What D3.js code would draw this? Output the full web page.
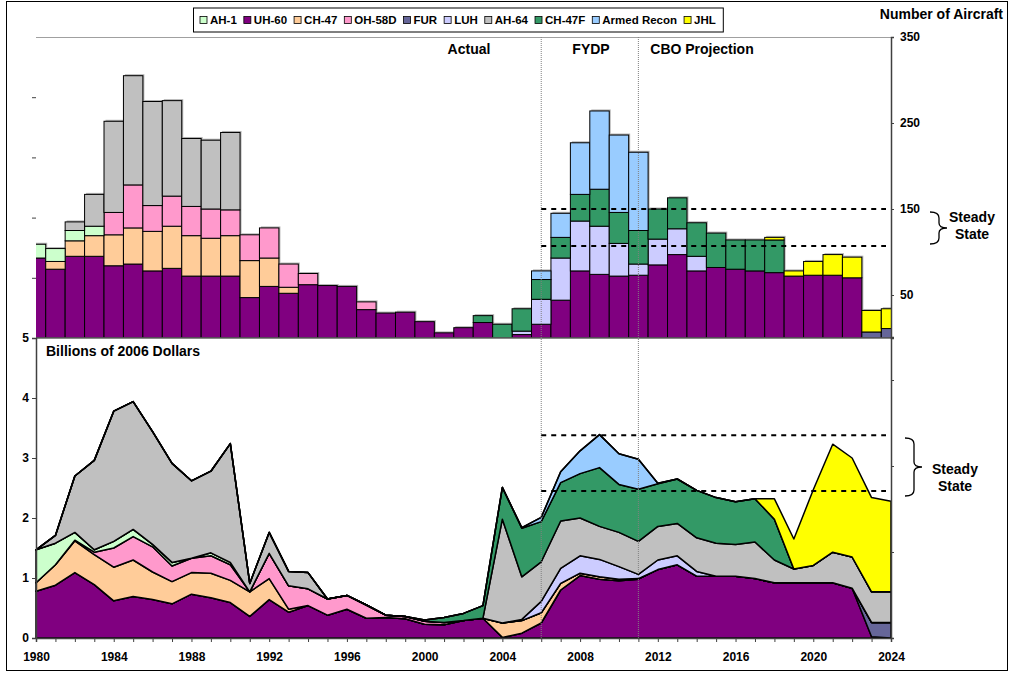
<!DOCTYPE html>
<html>
<head>
<meta charset="utf-8">
<script src="https://cdn.jsdelivr.net/npm/d3@7"></script>
<style>
  body { margin: 0; background: #fff; }
  svg { font-family: "Liberation Sans", Arial, sans-serif; font-weight: bold; }
</style>
</head>
<body>
<svg id="chart" width="1011" height="673"></svg>
<script>
// years 1980 - 2024
var years = d3.range(1980, 2025);
var yearLabels = [1980, 1984, 1988, 1992, 1996, 2000, 2004, 2008, 2012, 2016, 2020, 2024];

var seriesNames = ["AH-1", "UH-60", "CH-47", "OH-58D", "FUR", "LUH", "AH-64", "CH-47F", "Armed Recon", "JHL"];
var seriesColors = ["#ccffcc", "#800080", "#ffcc99", "#ff99cc", "#666699", "#ccccff", "#c0c0c0", "#339966", "#99ccff", "#ffff00"];
// stacking order, bottom to top
var stackOrder = ["UH-60", "FUR", "CH-47", "OH-58D", "AH-1", "LUH", "AH-64", "CH-47F", "Armed Recon", "JHL"];

// Number of aircraft (top panel)
var ah1Count    = [16,15,12,11,0,0,0,0,0,0, 0,0,0,0,0,0,0,0,0,0, 0,0,0,0,0,0,0,0,0,0, 0,0,0,0,0,0,0,0,0,0, 0,0,0,0,0];
var uh60Count   = [93,80,95,95,84,86,78,81,72,72, 72,47,60,52,62,61,60,33,29,30, 19,6,12,18,0,4,16,44,78,74, 72,73,85,97,78,82,80,78,76,72, 73,73,70,0,0];
var ch47Count   = [0,9,18,24,36,42,46,49,47,44, 47,43,33,7,0,0,0,0,0,0, 0,0,0,0,0,0,0,0,0,0, 0,0,0,0,0,0,0,0,0,0, 0,0,0,0,0];
var oh58Count   = [0,0,0,0,26,50,30,35,34,34, 30,30,35,27,13,0,0,9,0,0, 0,0,0,0,0,0,0,0,0,0, 0,0,0,0,0,0,0,0,0,0, 0,0,0,0,0];
var furCount    = [0,0,0,0,0,0,0,0,0,0, 0,0,0,0,0,0,0,0,0,0, 0,0,0,0,0,0,0,0,0,0, 0,0,0,0,0,0,0,0,0,0, 0,0,0,7,11];
var luhCount    = [0,0,0,0,0,0,0,0,0,0, 0,0,0,0,0,0,0,0,0,0, 0,0,0,0,0,4,29,49,58,56, 38,13,30,30,17,0,0,0,0,0, 0,0,0,0,0];
var ah64Count   = [0,0,10,37,106,127,121,111,79,80, 90,0,0,0,0,0,0,0,0,0, 0,0,0,0,0,0,0,0,0,0, 0,0,0,0,0,0,0,0,0,0, 0,0,0,0,0];
var ch47fCount  = [0,0,0,0,0,0,0,0,0,0, 0,0,0,0,0,0,0,0,0,0, 0,0,0,8,16,26,23,24,31,43, 36,39,35,36,39,40,34,36,38,0, 0,0,0,0,0];
var reconCount  = [0,0,0,0,0,0,0,0,0,0, 0,0,0,0,0,0,0,0,0,0, 0,0,0,0,0,0,10,28,60,91, 90,91,0,0,0,0,0,0,0,0, 0,0,0,0,0];
var jhlCount    = [0,0,0,0,0,0,0,0,0,0, 0,0,0,0,0,0,0,0,0,0, 0,0,0,0,0,0,0,0,0,0, 0,0,0,0,0,0,0,0,3,6, 16,24,24,25,23];

// Billions of 2006 dollars (bottom panel)
var ah1Cost     = [.55,.36,.13,.04,.11,.12,.04,.06,0,.05, .04,0,0,0,0,0,0,0,0,0, 0,0,0,0,0,0,0,0,0,0, 0,0,0,0,0,0,0,0,0,0, 0,0,0,0,0];
var uh60Cost    = [.78,.88,1.09,.89,.62,.69,.64,.57,.73,.67, .59,.36,.64,.43,.54,.38,.48,.33,.34,.32, .23,.22,.29,.33,.01,.08,.25,.80,1.04,.98, .955,.98,1.14,1.22,1.03,1.03,1.03,.99,.92,.92, .92,.92,.83,.02,0];
var ch47Cost    = [.14,.34,.53,.50,.56,.61,.46,.37,.36,.41, .37,.41,.35,.05,0,0,0,0,0,0, 0,0,0,0,.24,.21,.17,.11,.04,.04, .025,.01,0,0,0,0,0,0,0,0, 0,0,0,0,0];
var oh58Cost    = [0,0,.01,.04,.32,.39,.42,.26,.24,.29, .26,0,.42,.39,.28,.27,.23,.22,.04,.04, .05,.04,0,0,0,0,0,0,0,0, 0,0,0,0,0,0,0,0,0,0, 0,0,0,0,0];
var furCost     = [0,0,0,0,0,0,0,0,0,0, 0,0,0,0,0,0,0,0,0,0, 0,0,0,0,0,0,0,0,0,0, 0,0,0,0,0,0,0,0,0,0, 0,0,0,.24,.26];
var luhCost     = [0,0,0,0,0,0,0,0,0,0, 0,0,0,0,0,0,0,0,0,0, 0,0,0,0,0,.02,.19,.25,.29,.29, .21,.07,.16,.15,.08,0,0,0,0,0, 0,0,0,0,0];
var ah64Cost    = [0,.13,.94,1.49,2.17,2.13,1.88,1.65,1.29,1.36, 1.98,.14,.35,.24,.27,0,0,0,0,0, 0,0,0,0,1.73,.71,.66,.79,.63,.55, .57,.55,.56,.54,.56,.55,.53,.61,.38,.23, .29,.51,.52,.51,.51];
var ch47fCost   = [0,0,0,0,0,0,0,0,0,0, 0,0,0,0,0,0,0,0,0,0, .02,.08,.12,.21,.53,.81,.67,.64,.74,.98, .80,.87,.71,.74,.79,.76,.71,.72,.68,0, 0,0,0,0,0];
var reconCost   = [0,0,0,0,0,0,0,0,0,0, 0,0,0,0,0,0,0,0,0,0, 0,0,0,0,0,.01,.07,.18,.38,.55, .51,.50,.01,0,0,0,0,0,0,0, 0,0,0,0,0];
var jhlCost     = [0,0,0,0,0,0,0,0,0,0, 0,0,0,0,0,0,0,0,0,0, 0,0,0,0,0,0,0,0,0,0, 0,0,0,0,0,0,0,0,.34,.50, 1.26,1.80,1.65,1.57,1.51];

// steady state levels
var steadyCount = [150, 107];
var steadyCost = [3.38, 2.45];
var periodLines = [2006, 2011];

var countSeries = {"AH-1": ah1Count, "UH-60": uh60Count, "CH-47": ch47Count, "OH-58D": oh58Count, "FUR": furCount,
  "LUH": luhCount, "AH-64": ah64Count, "CH-47F": ch47fCount, "Armed Recon": reconCount, "JHL": jhlCount};
var costSeries = {"AH-1": ah1Cost, "UH-60": uh60Cost, "CH-47": ch47Cost, "OH-58D": oh58Cost, "FUR": furCost,
  "LUH": luhCost, "AH-64": ah64Cost, "CH-47F": ch47fCost, "Armed Recon": reconCost, "JHL": jhlCost};

var colorOf = d3.scaleOrdinal().domain(seriesNames).range(seriesColors);

function buildRows(series) {
  return years.map(function(y, i) {
    let row = {year: y};
    for (let k of seriesNames) row[k] = series[k][i];
    return row;
  });
}

var drawChart = function() {
  let svg = d3.select("#chart");

  // plot area
  let plotLeft = 36, plotRight = 891, plotTop = 37, plotMid = 338, plotBottom = 638;

  let x = d3.scaleLinear().domain([1980, 2024]).range([plotLeft, plotRight]);
  let yCount = d3.scaleLinear().domain([0, 350]).range([plotMid, plotTop]);
  let yCost = d3.scaleLinear().domain([0, 5]).range([plotBottom, plotMid]);
  let yCountLow = d3.scaleLinear().domain([0, 350]).range([plotBottom, plotBottom - (plotMid - plotTop)]);
  let yLeftTop = d3.scaleLinear().domain([0, 5]).range([plotMid, plotTop]);

  // outer frame
  svg.append("rect")
    .attr("x", 6.5).attr("y", 1.5)
    .attr("width", 1001).attr("height", 669)
    .attr("fill", "none").attr("stroke", "#000");

  svg.append("defs").append("clipPath").attr("id", "topclip")
    .append("rect").attr("x", plotLeft).attr("y", plotTop)
    .attr("width", plotRight - plotLeft).attr("height", plotMid - plotTop);

  // ---------- top: stacked bars ----------
  let stack = d3.stack().keys(stackOrder);
  let countRows = buildRows(countSeries);
  let countLayers = stack(countRows);
  let bw = x(1981) - x(1980);

  let bars = svg.append("g").attr("clip-path", "url(#topclip)");

  // excel-like shadow behind each bar
  let totals = countLayers[countLayers.length - 1];
  bars.selectAll(null)
    .data(totals.filter(d => d[1] > 0))
    .enter().append("rect")
    .attr("x", d => x(d.data.year) - bw / 2 + 1.5)
    .attr("y", d => yCount(d[1]) - 1.5)
    .attr("width", bw)
    .attr("height", d => yCount(0) - yCount(d[1]))
    .attr("fill", "#808080")
    .attr("opacity", 0.6);

  countLayers.forEach(function(layer) {
    bars.selectAll(null)
      .data(layer.filter(d => d[1] - d[0] > 0))
      .enter().append("rect")
      .attr("x", d => x(d.data.year) - bw / 2)
      .attr("y", d => yCount(d[1]))
      .attr("width", bw)
      .attr("height", d => yCount(d[0]) - yCount(d[1]))
      .attr("fill", colorOf(layer.key))
      .attr("stroke", "#000")
      .attr("stroke-width", 1);
  });

  // ---------- bottom: stacked areas ----------
  let costLayers = stack(buildRows(costSeries));
  let area = d3.area()
    .x(d => x(d.data.year))
    .y0(d => yCost(d[0]))
    .y1(d => yCost(d[1]));

  svg.append("g").selectAll("path")
    .data(costLayers)
    .enter().append("path")
    .attr("d", area)
    .attr("fill", d => colorOf(d.key))
    .attr("stroke", "#000")
    .attr("stroke-width", 1.5)
    .attr("stroke-linejoin", "round");

  // plot borders
  svg.append("line").attr("x1", plotLeft).attr("x2", plotRight).attr("y1", plotTop + 0.5).attr("y2", plotTop + 0.5)
    .attr("stroke", "#a0a0a0");
  svg.append("line").attr("x1", plotLeft).attr("x2", plotRight).attr("y1", plotMid).attr("y2", plotMid)
    .attr("stroke", "#606060").attr("stroke-width", 1.5);

  // period separators
  svg.append("g").selectAll("line")
    .data(periodLines)
    .enter().append("line")
    .attr("x1", d => x(d)).attr("x2", d => x(d))
    .attr("y1", plotTop).attr("y2", plotBottom)
    .attr("stroke", "#808080")
    .attr("stroke-dasharray", "1,1");

  // steady state dashes
  let dashes = svg.append("g")
    .attr("stroke", "#000").attr("stroke-width", 2).attr("stroke-dasharray", "5,5");
  steadyCount.forEach(function(v) {
    dashes.append("line").attr("x1", x(2006)).attr("x2", 886).attr("y1", yCount(v)).attr("y2", yCount(v));
  });
  steadyCost.forEach(function(v) {
    dashes.append("line").attr("x1", x(2006)).attr("x2", 886).attr("y1", yCost(v)).attr("y2", yCost(v));
  });

  // axes
  let xAxis = d3.axisBottom(x)
    .tickValues(years)
    .tickSize(4)
    .tickFormat(d => yearLabels.indexOf(d) >= 0 ? d : "");
  let xg = svg.append("g").attr("transform", "translate(0," + plotBottom + ")").call(xAxis);
  xg.selectAll("text").attr("dy", "1.3em");

  let leftAxis = d3.axisLeft(yCost).ticks(5).tickSize(4).tickFormat(d3.format("d"));
  svg.append("g").attr("transform", "translate(" + plotLeft + ",0)").call(leftAxis);

  let leftTopAxis = d3.axisLeft(yLeftTop).tickValues([1, 2, 3, 4]).tickSize(4).tickFormat("");
  let ltg = svg.append("g").attr("transform", "translate(" + plotLeft + ",0)").call(leftTopAxis);
  ltg.select(".domain").remove();

  let rightAxis = d3.axisRight(yCount).tickValues([50, 150, 250, 350]).tickSize(3).tickPadding(6);
  svg.append("g").attr("transform", "translate(" + plotRight + ",0)").call(rightAxis);

  let rightLowAxis = d3.axisRight(yCountLow).tickValues([0, 100, 200, 300]).tickSize(3).tickFormat("");
  svg.append("g").attr("transform", "translate(" + plotRight + ",0)").call(rightLowAxis);

  svg.selectAll(".tick text").attr("font-size", 12).attr("font-weight", "bold").attr("fill", "#000")
    .attr("font-family", "Liberation Sans, Arial, sans-serif");
  svg.selectAll(".domain").attr("stroke", "#404040").attr("stroke-width", 1.5);
  svg.selectAll(".tick line").attr("stroke", "#404040");

  // titles
  svg.append("text").text("Number of Aircraft")
    .attr("x", 1003).attr("y", 19).attr("text-anchor", "end").style("font-size", "14px");
  svg.append("text").text("Billions of 2006 Dollars")
    .attr("x", 46).attr("y", 356).style("font-size", "14px");

  let periodText = [["Actual", 469], ["FYDP", 591], ["CBO Projection", 702]];
  periodText.forEach(function(p) {
    svg.append("text").text(p[0])
      .attr("x", p[1]).attr("y", 54).attr("text-anchor", "middle").style("font-size", "14px");
  });

  // braces + steady state text
  function brace(x0, y0, y1) {
    let xm = x0 + 9, tip = x0 + 17, yc = (y0 + y1) / 2;
    let p = "M" + x0 + "," + y0 + " Q" + xm + "," + y0 + " " + xm + "," + (y0 + 6)
      + " L" + xm + "," + (yc - 5) + " Q" + xm + "," + yc + " " + tip + "," + yc
      + " Q" + xm + "," + yc + " " + xm + "," + (yc + 5)
      + " L" + xm + "," + (y1 - 6) + " Q" + xm + "," + y1 + " " + x0 + "," + y1;
    svg.append("path").attr("d", p).attr("fill", "none").attr("stroke", "#000").attr("stroke-width", 1.3);
  }
  brace(930, 212, 244);
  brace(905, 438, 496);

  svg.append("text").text("Steady").attr("x", 972).attr("y", 222).attr("text-anchor", "middle").style("font-size", "14px");
  svg.append("text").text("State").attr("x", 972).attr("y", 239).attr("text-anchor", "middle").style("font-size", "14px");
  svg.append("text").text("Steady").attr("x", 955).attr("y", 474).attr("text-anchor", "middle").style("font-size", "14px");
  svg.append("text").text("State").attr("x", 955).attr("y", 491).attr("text-anchor", "middle").style("font-size", "14px");

  // legend
  let legend = svg.append("g");
  let legendBox = legend.append("rect")
    .attr("y", 8).attr("height", 24)
    .attr("fill", "#fff").attr("stroke", "#000");
  let lx = 200;
  seriesNames.forEach(function(name) {
    legend.append("rect")
      .attr("x", lx).attr("y", 16.5).attr("width", 7).attr("height", 7)
      .attr("fill", colorOf(name)).attr("stroke", "#000").attr("stroke-width", 0.8);
    let t = legend.append("text").text(name)
      .attr("x", lx + 10).attr("y", 24).style("font-size", "11.5px");
    lx += 10 + t.node().getComputedTextLength() + 7;
  });
  legendBox.attr("x", 193.5).attr("width", lx - 193);
}

drawChart();
</script>
</body>
</html>
